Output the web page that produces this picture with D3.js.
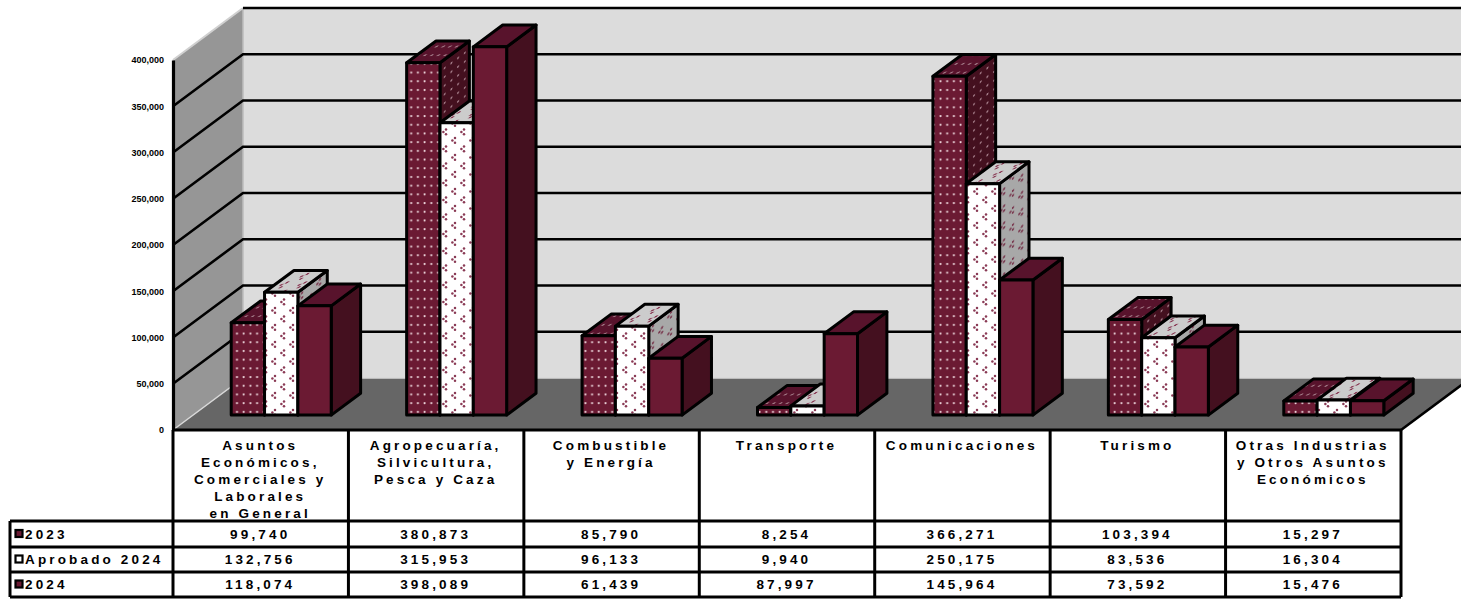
<!DOCTYPE html>
<html><head><meta charset="utf-8">
<script src="https://cdn.jsdelivr.net/npm/d3@7/dist/d3.min.js"></script>
<style>html,body{margin:0;padding:0;background:#fff}svg{display:block;font-family:"Liberation Sans",Arial,sans-serif;font-weight:bold}</style>
</head><body><svg id="c" width="1461" height="599"></svg>
<script>
const categories=[["Asuntos","Económicos,","Comerciales y","Laborales","en General"],["Agropecuaría,","Silvicultura,","Pesca y Caza"],["Combustible","y Energía"],["Transporte"],["Comunicaciones"],["Turismo"],["Otras Industrias","y Otros Asuntos","Económicos"]];
const seriesNames=["2023","Aprobado 2024","2024"];
const v2023=[99740,380873,85790,8254,366271,103394,15297];
const vAprobado=[132756,315953,96133,9940,250175,83536,16304];
const v2024=[118074,398089,61439,87997,145964,73592,15476];
const tickValues=[0,50000,100000,150000,200000,250000,300000,350000,400000];

const svg=d3.select("#c");
const W=1461;
const catIdx=d3.range(categories.length);
const x=d3.scaleBand().domain(catIdx).range([173,1401]);
const y=d3.scaleLinear().domain([0,400000]).range([430,60]);
const DX=70,DY=-52;            // full floor depth
const f0=0.31,f1=0.73;         // bar front / back position in the depth
const series=[v2023,vAprobado,v2024];
const xs=d3.scaleBand().domain([0,1,2]).range([0,100]);

// patterns
const defs=svg.append("defs");
function dots(id,bg,fg,skew){
  const p=defs.append("pattern").attr("id",id).attr("patternUnits","userSpaceOnUse").attr("width",6.7).attr("height",8.7);
  if(skew)p.attr("patternTransform",skew);
  p.append("rect").attr("width",6.7).attr("height",8.7).attr("fill",bg);
  p.append("circle").attr("cx",2.5).attr("cy",3).attr("r",1.1).attr("fill",fg);
}
function marks(id,bg,fg,skew){
  const p=defs.append("pattern").attr("id",id).attr("patternUnits","userSpaceOnUse").attr("width",18).attr("height",17);
  if(skew)p.attr("patternTransform",skew);
  p.append("rect").attr("width",18).attr("height",17).attr("fill",bg);
  [[5,2],[14,10.5]].forEach(c=>{
    [[0,0],[-2.6,2.4],[0,4.8]].forEach(o=>p.append("circle").attr("cx",c[0]+o[0]).attr("cy",c[1]+o[1]).attr("r",1.25).attr("fill",fg));
  });
}
const skewSide="skewY(-37)",skewTop="skewX(-53)";
dots("d-front","#6b1a33","#eed8de");
dots("d-side","#44101f","#a67f8b",skewSide);
dots("d-top","#58132c","#a67f8b",skewTop);
marks("m-front","#ffffff","#8a3a55");
marks("m-side","#a8a8a8","#7a3a50",skewSide);
marks("m-top","#cccccc","#8a3a55",skewTop);
const fills=[
 {f:"url(#d-front)",s:"url(#d-side)",t:"url(#d-top)"},
 {f:"url(#m-front)",s:"url(#m-side)",t:"url(#m-top)"},
 {f:"#6b1a33",s:"#44101f",t:"#58132c"}];

const line=d3.line();
// walls and floor
const x0=x.range()[0],x1=x.range()[1],y0=y(0),yT=y(400000);
svg.append("path").attr("d",line([[x0,y0],[x0+DX,y0+DY],[x0+DX,yT+DY],[x0,yT]])+"Z").attr("fill","#969696");
svg.append("rect").attr("x",x0+DX).attr("y",yT+DY).attr("width",W-x0-DX).attr("height",y0-yT).attr("fill","#dcdcdc");
svg.append("path").attr("d",line([[x0,y0],[x1,y0],[x1+DX,y0+DY],[x0+DX,y0+DY]])+"Z").attr("fill","#666666");
// light edges
svg.append("path").attr("d",line([[x0,y0],[x0+DX,y0+DY],[W,y0+DY]])).attr("fill","none").attr("stroke","#d8d8d8").attr("stroke-width",1.5);
svg.append("path").attr("d",line([[x0,yT],[x0+DX,yT+DY]])).attr("fill","none").attr("stroke","#d0d0d0").attr("stroke-width",2);
svg.append("line").attr("x1",x0+DX).attr("x2",x0+DX).attr("y1",yT+DY).attr("y2",y0+DY).attr("stroke","#bdbdbd").attr("stroke-width",1.5);
// gridlines
svg.append("g").selectAll("path").data(tickValues.slice(1)).join("path")
 .attr("d",t=>t===400000?line([[x0+DX,y(t)+DY],[W,y(t)+DY]]):line([[x0,y(t)],[x0+DX,y(t)+DY],[W,y(t)+DY]]))
 .attr("fill","none").attr("stroke","#000").attr("stroke-width",2.6);
// floor right edge
svg.append("line").attr("x1",x1).attr("y1",y0).attr("x2",x1+DX).attr("y2",y0+DY).attr("stroke","#000").attr("stroke-width",2.6);

// axis
const axis=d3.axisLeft(y).tickValues(tickValues).tickFormat(d3.format(",")).tickSize(0).tickPadding(9);
const ag=svg.append("g").attr("transform",`translate(${x0},0)`).call(axis);
ag.select(".domain").attr("stroke","#000").attr("stroke-width",3.2);
ag.selectAll("text").attr("font-size",9).attr("font-family","'Liberation Sans',Arial,sans-serif").attr("font-weight","bold").attr("fill","#000");

// bars
const bars=svg.append("g").attr("stroke","#000").attr("stroke-width",3).attr("stroke-linejoin","round");
const nudgeX=-1.2,nudgeY=1.2;
catIdx.forEach(c=>{
  const gx=x(c)+(x.bandwidth()-100)/2+f0*DX+nudgeX;
  series.forEach((s,k)=>{
    const l=gx+xs(k),r=l+xs.bandwidth();
    const base=y(0)+f0*DY+nudgeY,top=y(s[c])+f0*DY+nudgeY;
    const dx=(f1-f0)*DX,dy=(f1-f0)*DY;
    bars.append("path").attr("fill",fills[k].s).attr("d",line([[r,base],[r+dx,base+dy],[r+dx,top+dy],[r,top]])+"Z");
    bars.append("path").attr("fill",fills[k].t).attr("d",line([[l,top],[r,top],[r+dx,top+dy],[l+dx,top+dy]])+"Z");
    bars.append("rect").attr("x",l).attr("y",top).attr("width",r-l).attr("height",base-top).attr("fill",fills[k].f);
  });
});

// data table
const tblTop=y0,rowY=d3.scaleOrdinal().domain([0,1,2,3]).range([521,547,572,597]);
const tbl=svg.append("g");
const T={stroke:"#000","stroke-width":3};
function ln(a,b,c,d){const e=tbl.append("line").attr("x1",a).attr("y1",b).attr("x2",c).attr("y2",d);Object.entries(T).forEach(([k,v])=>e.attr(k,v));}
ln(x0,tblTop,x1,tblTop);
x.domain().concat([categories.length]).forEach(i=>ln(x0+i*x.bandwidth(),tblTop,x0+i*x.bandwidth(),597));
[0,1,2,3].forEach(r=>ln(10,rowY(r),x1,rowY(r)));
ln(10,521,10,597);
const ls=3.15,fs=13.5;
catIdx.forEach(c=>{
  categories[c].forEach((t,i)=>{
    tbl.append("text").text(t).attr("x",x(c)+x.bandwidth()/2-0.5).attr("y",450+i*17).attr("text-anchor","middle")
      .attr("font-size",fs).attr("letter-spacing",ls);
  });
  series.forEach((s,k)=>{
    tbl.append("text").text(d3.format(",")(s[c])).attr("x",x(c)+x.bandwidth()/2-0.5)
      .attr("y",(rowY(k)+rowY(k+1))/2+4.5).attr("text-anchor","middle").attr("font-size",fs).attr("letter-spacing",ls);
  });
});
const keyFill=["#6b1a33","#ffffff","#6b1a33"];
seriesNames.forEach((n,k)=>{
  const my=(rowY(k)+rowY(k+1))/2;
  tbl.append("rect").attr("x",15.5).attr("y",my-4).attr("width",7).attr("height",7).attr("fill",keyFill[k]).attr("stroke","#000").attr("stroke-width",2.2);
  tbl.append("text").text(n).attr("x",25).attr("y",my+4.5).attr("font-size",fs).attr("letter-spacing",ls);
});
</script></body></html>
